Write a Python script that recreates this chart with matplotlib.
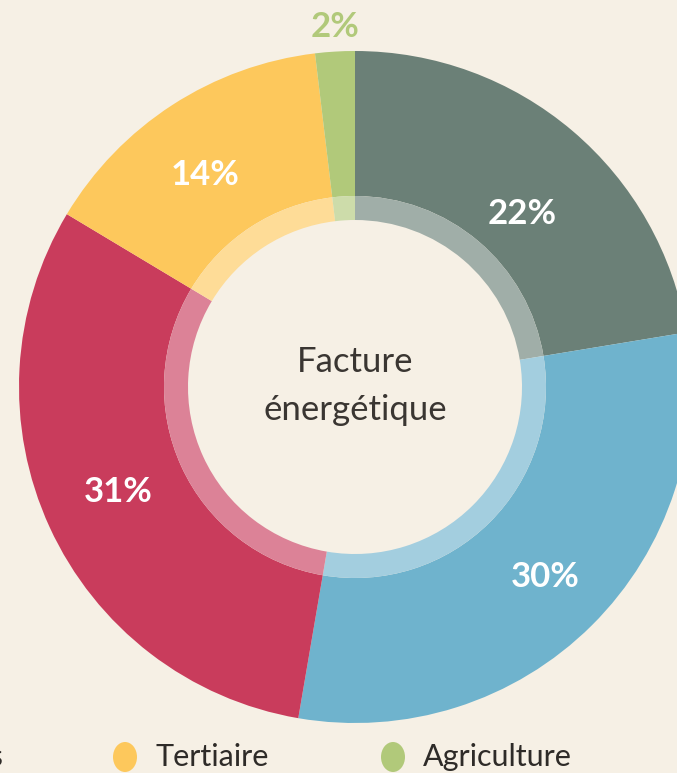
import matplotlib.pyplot as plt
from matplotlib.patches import Ellipse
from matplotlib.colors import to_rgb

# Data
sectors = ['Industrie', 'Transports', 'Résidentiel', 'Tertiaire', 'Agriculture']
shares = [22.4, 30.3, 30.9, 14.5, 1.9]
share_labels = ['22%', '30%', '31%', '14%', '2%']
colors = ['#6B8077', '#6FB3CD', '#C93C5C', '#FDC85C', '#B1C97A']
legend_items = ['Transports', 'Tertiaire', 'Agriculture']
legend_colors = ['#6FB3CD', '#FDC85C', '#B1C97A']

W, H = 677, 773
bg = '#F6F0E5'
font = ['Lato', 'DejaVu Sans']


def lighten(c, f=0.36):
    r, g, b = to_rgb(c)
    return (r + (1 - r) * f, g + (1 - g) * f, b + (1 - b) * f)


fig = plt.figure(figsize=(W / 100, H / 100), dpi=100, facecolor=bg)
ax = fig.add_axes([0, 0, 1, 1])
ax.set_facecolor(bg)

cx, cy = 355, H - 387
r_out, r_mid, r_in = 336, 191, 167

# outer donut
ax.pie(shares, colors=colors, radius=r_out, center=(cx, cy), startangle=90,
       counterclock=False, wedgeprops=dict(width=r_out - r_mid, linewidth=0),
       frame=True)
# light inner ring
ax.pie(shares, colors=[lighten(c) for c in colors], radius=r_mid, center=(cx, cy),
       startangle=90, counterclock=False,
       wedgeprops=dict(width=r_mid - r_in, linewidth=0), frame=True)
ax.set_xlim(0, W)
ax.set_ylim(0, H)
ax.set_aspect('equal')
ax.axis('off')

# percentage labels (image coords)
label_pos = [(522, 214), (545, 577), (118, 492), (205, 175), (335, 27)]
for i, ((x, y), txt) in enumerate(zip(label_pos, share_labels)):
    col = colors[i] if i == 4 else 'white'
    ax.text(x, H - y, txt, ha='center', va='center', color=col,
            fontsize=25, fontweight='bold', family=font)

# center text
ax.text(cx, H - 362, 'Facture', ha='center', va='center', color='#3A3632',
        fontsize=25, family=font)
ax.text(cx, H - 410, 'énergétique', ha='center', va='center', color='#3A3632',
        fontsize=25, family=font)

# legend (partially cropped, as in the source)
legend_x = [-170, 125, 393]
for x, name, c in zip(legend_x, legend_items, legend_colors):
    ax.add_patch(Ellipse((x, H - 757), 24, 30, color=c, lw=0))
    ax.text(x + 30, H - 757, name, ha='left', va='center', color='#2E2B28',
            fontsize=22, family=font)

fig.savefig('out.png', dpi=100, facecolor=bg)
